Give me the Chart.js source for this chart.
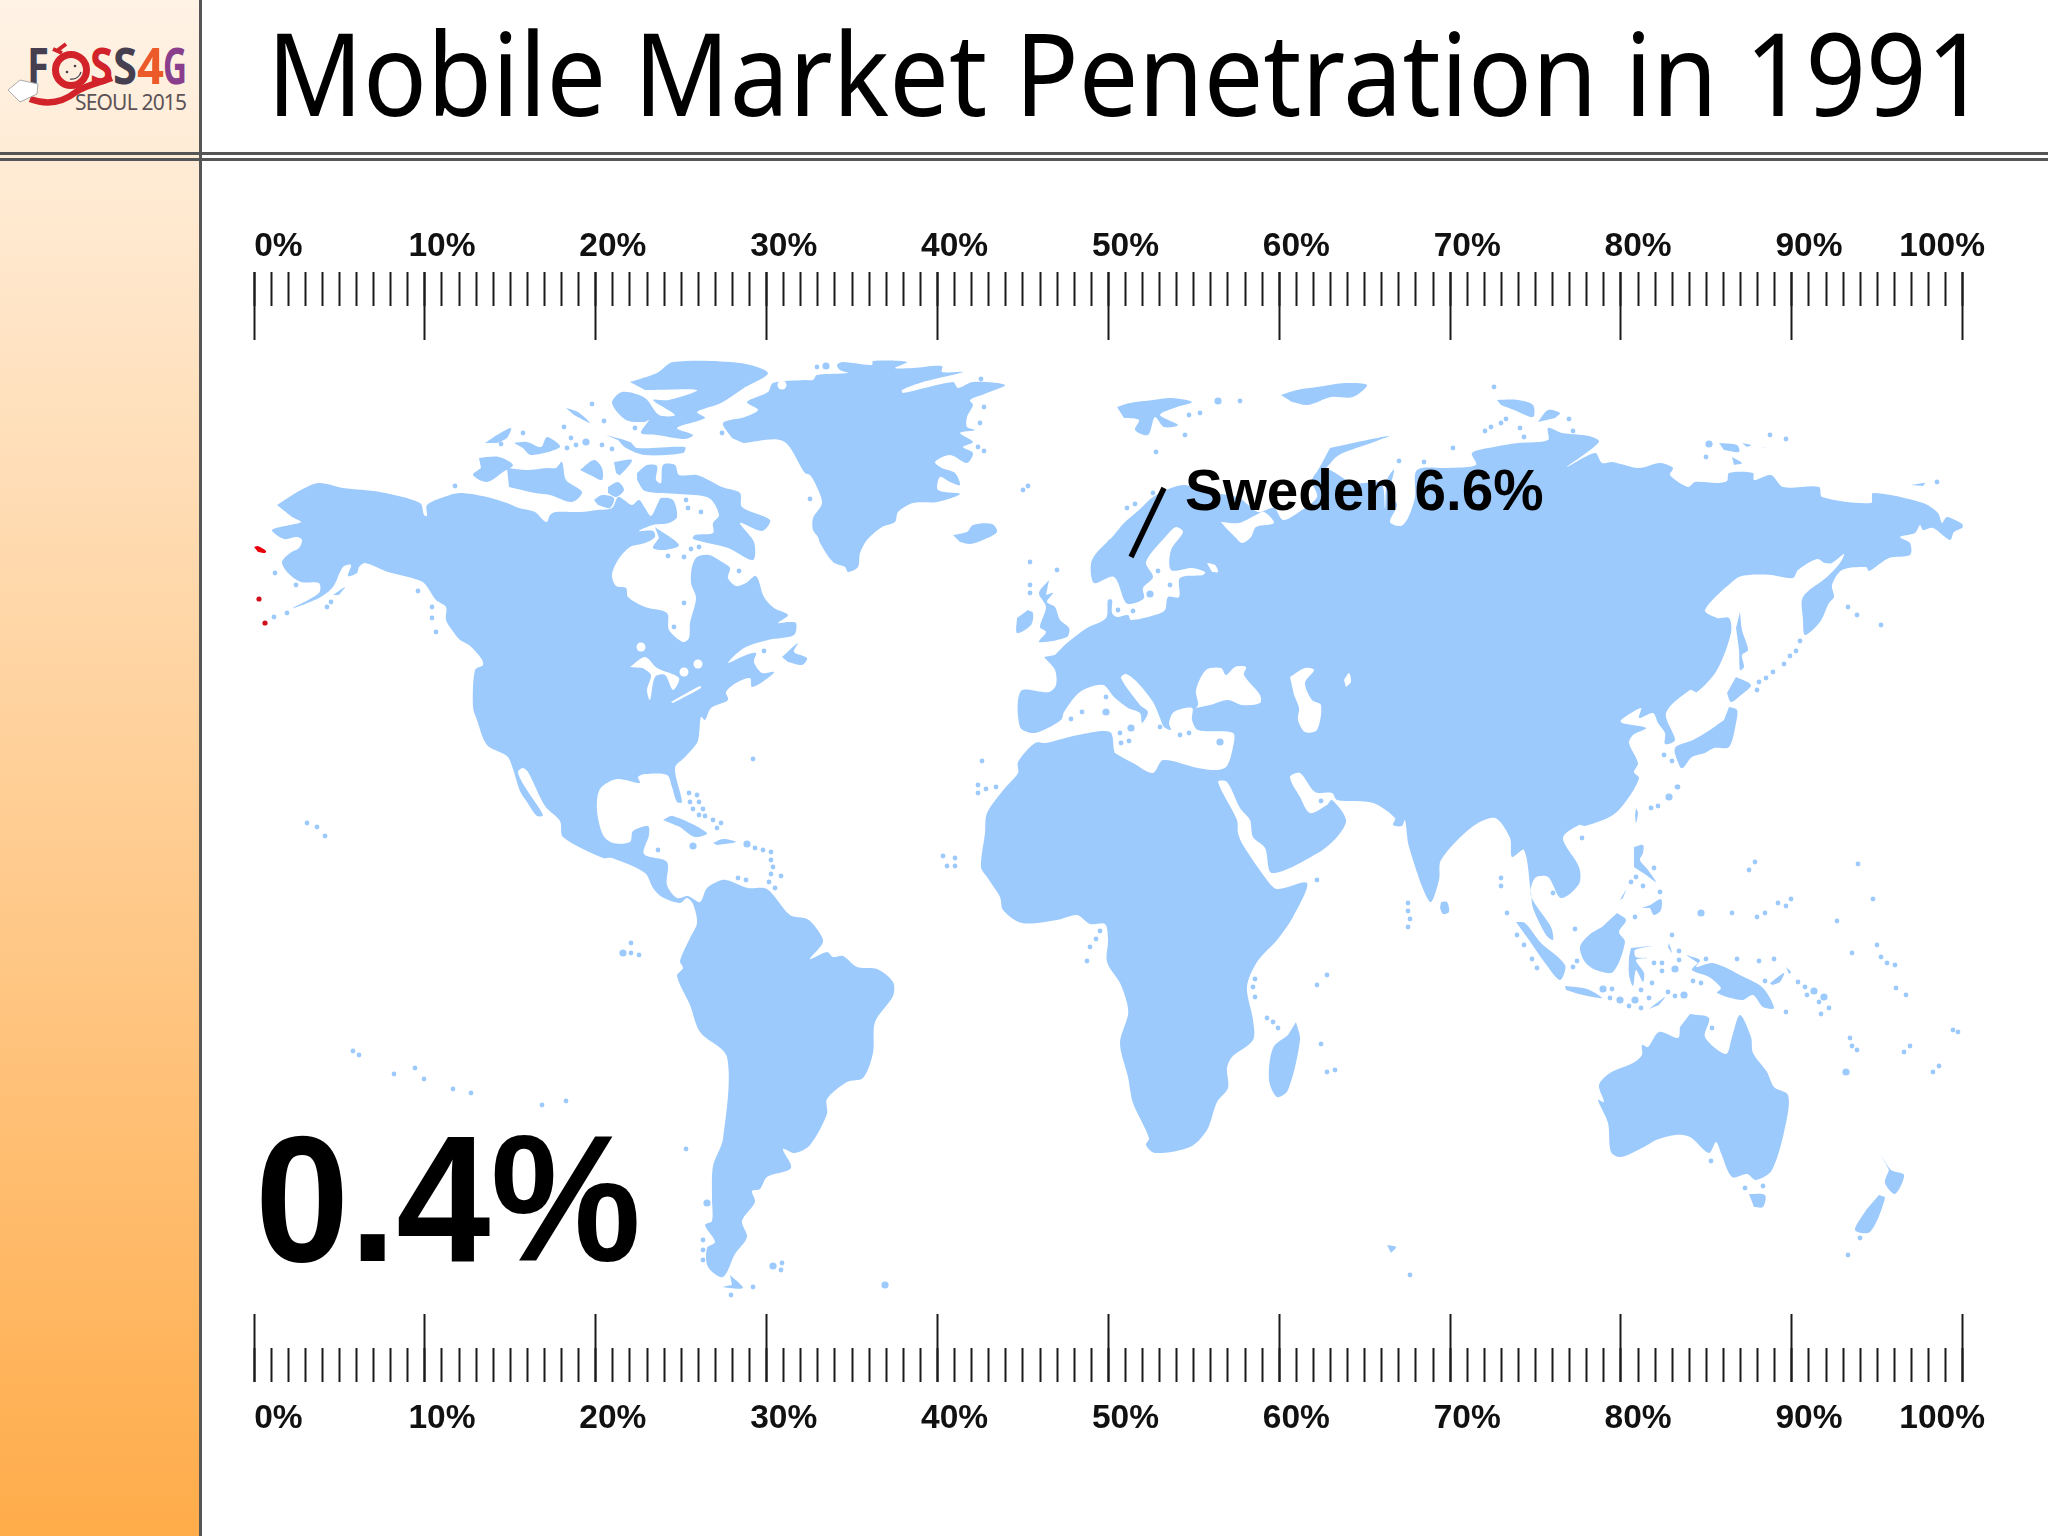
<!DOCTYPE html>
<html>
<head>
<meta charset="utf-8">
<title>Mobile Market Penetration in 1991</title>
<script src="https://cdn.jsdelivr.net/npm/chart.js@4"></script>
<style>
  html, body { margin: 0; padding: 0; background: #fff; }
  #slide { position: relative; width: 2048px; height: 1536px; overflow: hidden; background: #fff; }
  #side { position: absolute; left: 0; top: 0; width: 200px; height: 1536px; background: linear-gradient(#fff3e6, #ffac4a); }
  .rule { position: absolute; background: #555; }
  #heading { position: absolute; left: 267px; top: -8px; margin: 0; font: 400 116px "Noto Sans", sans-serif; color: #000; white-space: nowrap; transform: scaleX(0.912); transform-origin: left top; }
  #logo { position: absolute; left: 0; top: 0; }
  canvas { position: absolute; left: 0; top: 0; }
</style>
</head>
<body>
<div id="slide">
  <div id="side"></div>
  <h1 id="heading">Mobile Market Penetration in 1991</h1>
  <svg id="logo" width="200" height="150" font-family="Noto Sans" font-weight="700">
    <text x="27" y="84" font-size="50" fill="#453f50" textLength="22" lengthAdjust="spacingAndGlyphs">F</text>
    <text x="90" y="84" font-size="50" fill="#d2232a" textLength="23" lengthAdjust="spacingAndGlyphs">S</text>
    <text x="113" y="84" font-size="50" fill="#453f50" textLength="24" lengthAdjust="spacingAndGlyphs">S</text>
    <text x="137" y="84" font-size="50" fill="#ec5a29" textLength="27" lengthAdjust="spacingAndGlyphs">4</text>
    <text x="163" y="84" font-size="50" fill="#8a3f8c" textLength="24" lengthAdjust="spacingAndGlyphs">G</text>
    <circle cx="71" cy="70" r="15.5" fill="#fdeedd" stroke="#d2232a" stroke-width="7"/>
    <path d="M53 49 L62 53 M66 44 L58 50" stroke="#d2232a" stroke-width="4" fill="none"/>
    <circle cx="67" cy="72" r="1.3" fill="#453f50"/>
    <circle cx="75" cy="66" r="1.3" fill="#453f50"/>
    <path d="M70 79 C76 80 80 76 81 72" stroke="#453f50" stroke-width="1.2" fill="none"/>
    <path d="M112 78 C96 84 86 85 76 92 C62 103 46 105 30 99" fill="none" stroke="#d2232a" stroke-width="6.5"/>
    <path d="M8 90 L20 80 L38 84 L37 94 L20 102 Z" fill="#fff" stroke="#aaa"/>
    <text x="75" y="110" font-size="21" font-weight="400" fill="#5b5357" textLength="112">SEOUL 2015</text>
  </svg>
  <div class="rule" style="left:199px;top:0;width:3px;height:1536px"></div>
  <div class="rule" style="left:0;top:152px;width:2048px;height:3px"></div>
  <div class="rule" style="left:0;top:158px;width:2048px;height:2.5px"></div>
  <canvas id="myChart" width="2048" height="1536"></canvas>
</div>
<script>
// ruler values and labels
const tickValues = [0, 10, 20, 30, 40, 50, 60, 70, 80, 90, 100];
const tickLabels = ['0%', '10%', '20%', '30%', '40%', '50%', '60%', '70%', '80%', '90%', '100%'];

// callouts
const worldShare = '0.4%';
const swedenLabel = 'Sweden 6.6%';
const swedenLeader = [[1164,488],[1131,557]];

// land outlines
const northAmerica = [[277,505],[301,490],[319,483],[343,488],[380,492],[420,503],[424,515],[427,516],[427,505],[444,497],[460,493],[487,497],[507,503],[519,508],[535,512],[543,520],[547,522],[550,515],[556,512],[580,512],[598,510],[612,508],[618,497],[624,500],[632,505],[639,500],[645,508],[651,516],[658,503],[661,498],[673,500],[677,517],[669,523],[653,525],[639,531],[653,531],[655,537],[645,543],[630,547],[618,560],[612,575],[616,586],[626,588],[628,597],[645,607],[667,613],[669,630],[683,642],[689,638],[690,623],[696,598],[691,583],[692,567],[697,557],[709,555],[722,562],[730,568],[728,578],[736,586],[746,583],[756,576],[764,597],[774,608],[788,615],[778,623],[788,622],[796,623],[794,635],[768,640],[744,648],[728,663],[746,655],[756,653],[754,662],[762,673],[774,672],[768,678],[752,687],[750,678],[736,683],[726,692],[728,700],[711,708],[705,720],[701,717],[699,735],[697,743],[685,757],[675,768],[682,802],[677,802],[672,787],[667,775],[645,774],[638,777],[640,783],[617,779],[600,789],[597,810],[603,835],[613,843],[630,842],[633,831],[648,826],[649,835],[644,854],[667,862],[667,885],[677,898],[688,896],[700,902],[707,888],[722,880],[730,881],[748,888],[767,889],[790,915],[807,919],[817,929],[823,942],[810,959],[827,952],[833,957],[843,956],[857,967],[877,969],[893,982],[893,996],[875,1022],[873,1053],[863,1078],[847,1082],[827,1099],[827,1114],[810,1145],[795,1153],[783,1149],[791,1168],[767,1177],[760,1189],[752,1191],[755,1202],[742,1221],[747,1237],[735,1254],[723,1277],[708,1267],[707,1248],[715,1242],[705,1225],[712,1221],[712,1198],[713,1166],[723,1139],[727,1057],[700,1032],[690,1005],[677,976],[683,968],[680,961],[690,938],[697,923],[693,904],[687,898],[680,903],[662,897],[653,888],[645,873],[612,858],[603,858],[563,837],[560,821],[545,806],[528,772],[523,768],[518,772],[525,787],[543,815],[537,816],[527,802],[520,791],[512,766],[507,756],[487,745],[477,720],[473,707],[475,670],[483,665],[481,658],[469,645],[460,640],[452,630],[446,620],[446,607],[436,600],[424,583],[412,578],[388,572],[365,563],[359,567],[357,573],[348,576],[351,565],[343,567],[333,587],[319,598],[293,608],[319,593],[319,583],[301,582],[288,573],[282,562],[290,553],[299,548],[302,540],[297,537],[284,539],[272,530],[290,525],[301,522],[292,517]];
const ellesmere = [[630,382],[657,373],[673,362],[740,363],[768,373],[744,388],[721,403],[697,412],[705,418],[677,428],[693,435],[685,439],[657,435],[641,433],[649,420],[645,422],[626,420],[612,403],[622,392],[645,398],[659,415],[675,415],[653,400],[669,400],[697,390],[645,390]];
const baffin = [[637,473],[647,465],[657,466],[656,480],[661,483],[663,465],[675,465],[679,475],[697,475],[722,487],[740,493],[742,507],[770,520],[762,531],[740,523],[754,542],[753,560],[728,548],[693,539],[695,535],[713,533],[713,523],[719,515],[709,498],[679,494],[645,491],[637,480]];
const arcticIslandA = [[606,435],[630,442],[637,448],[685,447],[683,453],[645,455],[626,448],[618,440]];
const arcticIslandB = [[485,443],[497,435],[511,428],[507,438],[497,443]];
const arcticIslandC = [[514,443],[527,442],[541,447],[547,437],[560,447],[531,455],[523,448]];
const arcticIslandD = [[566,408],[578,412],[590,423],[574,415]];
const banks = [[479,458],[499,457],[513,465],[503,472],[487,482],[473,475],[481,468]];
const victoria = [[507,468],[527,470],[547,468],[556,468],[562,462],[566,480],[582,492],[572,502],[550,495],[535,493],[509,487]];
const arcticIslandE = [[580,470],[594,460],[602,468],[602,480],[590,475]];
const arcticIslandF = [[614,462],[632,460],[620,475],[616,473]];
const arcticIslandG = [[608,487],[618,482],[624,490],[616,497],[608,493]];
const arcticIslandH = [[594,500],[602,495],[614,498],[610,508],[598,505]];
const southampton = [[655,527],[679,545],[665,550],[653,548],[659,538]];
const newfoundland = [[782,657],[798,643],[794,652],[807,658],[802,665],[788,662]];
const kodiak = [[333,595],[345,587],[339,595]];
const greenland = [[732,438],[723,423],[745,417],[758,410],[747,402],[768,392],[773,383],[805,380],[813,380],[817,375],[848,373],[840,370],[837,365],[842,362],[853,363],[872,365],[873,361],[907,362],[895,368],[913,368],[942,366],[942,372],[963,372],[923,382],[902,390],[903,393],[953,382],[958,388],[973,382],[1005,385],[987,393],[970,400],[973,405],[967,417],[967,427],[975,430],[960,433],[973,442],[963,447],[973,453],[967,463],[950,455],[935,462],[942,468],[955,473],[960,485],[950,482],[940,477],[938,490],[960,494],[937,502],[913,503],[898,512],[895,522],[882,527],[867,540],[860,553],[858,567],[848,572],[845,567],[833,562],[820,543],[818,537],[813,530],[813,518],[822,503],[815,483],[810,475],[805,473],[783,441],[743,443]];
const iceland = [[953,535],[967,532],[973,525],[992,524],[997,532],[983,540],[970,544],[960,542]];
const eurasiaAfrica = [[1044,657],[1055,670],[1056,685],[1049,692],[1021,691],[1020,727],[1035,733],[1061,720],[1064,712],[1080,692],[1103,685],[1114,697],[1128,708],[1140,713],[1142,723],[1148,712],[1140,705],[1121,678],[1126,674],[1137,682],[1153,702],[1160,718],[1164,727],[1171,730],[1169,723],[1174,712],[1192,708],[1192,720],[1198,730],[1233,733],[1233,747],[1227,766],[1218,770],[1198,768],[1163,760],[1153,773],[1133,763],[1115,753],[1114,750],[1110,732],[1078,735],[1046,743],[1035,743],[1018,762],[1018,773],[1005,788],[987,813],[985,833],[981,867],[987,877],[1000,897],[1003,910],[1022,923],[1057,920],[1077,915],[1090,924],[1105,924],[1108,940],[1107,962],[1120,983],[1127,1003],[1128,1015],[1120,1043],[1128,1077],[1133,1103],[1149,1138],[1146,1145],[1155,1153],[1190,1147],[1207,1130],[1217,1102],[1228,1088],[1227,1068],[1232,1057],[1253,1040],[1253,1020],[1247,987],[1257,962],[1277,940],[1293,917],[1307,883],[1277,889],[1267,880],[1243,845],[1238,833],[1237,820],[1218,782],[1227,782],[1240,808],[1250,820],[1253,837],[1265,848],[1272,873],[1318,853],[1337,837],[1346,820],[1332,800],[1327,805],[1310,813],[1300,797],[1290,777],[1300,773],[1315,792],[1332,793],[1337,800],[1373,803],[1395,818],[1393,825],[1402,826],[1405,820],[1409,847],[1430,902],[1439,880],[1441,860],[1472,827],[1495,818],[1510,838],[1512,857],[1524,850],[1531,893],[1533,908],[1546,935],[1553,940],[1551,927],[1531,896],[1535,878],[1548,877],[1561,898],[1579,884],[1579,867],[1563,838],[1579,825],[1585,826],[1613,815],[1629,797],[1639,778],[1634,772],[1638,763],[1629,743],[1633,735],[1646,728],[1622,723],[1621,720],[1641,708],[1639,718],[1653,713],[1658,723],[1665,733],[1665,744],[1675,740],[1666,713],[1690,690],[1697,692],[1717,670],[1731,633],[1729,618],[1717,618],[1705,610],[1737,578],[1749,575],[1771,575],[1793,578],[1798,570],[1817,559],[1825,563],[1832,563],[1844,554],[1840,563],[1827,577],[1803,597],[1803,620],[1805,635],[1820,622],[1829,603],[1834,597],[1832,585],[1842,570],[1866,567],[1869,571],[1889,558],[1910,555],[1910,543],[1900,537],[1915,533],[1920,525],[1923,530],[1933,528],[1950,540],[1954,532],[1964,526],[1947,517],[1942,523],[1938,513],[1923,503],[1873,493],[1871,503],[1822,497],[1819,487],[1783,487],[1771,475],[1754,480],[1753,473],[1729,473],[1727,481],[1717,483],[1695,482],[1688,487],[1670,475],[1673,468],[1660,463],[1639,468],[1612,462],[1602,463],[1595,453],[1567,467],[1599,442],[1589,436],[1562,433],[1548,428],[1548,440],[1518,443],[1494,447],[1472,453],[1476,465],[1448,468],[1417,470],[1415,497],[1408,518],[1401,526],[1390,522],[1397,505],[1390,493],[1394,470],[1387,480],[1385,508],[1381,483],[1353,483],[1324,468],[1312,480],[1317,497],[1299,512],[1283,520],[1274,508],[1258,512],[1239,498],[1210,492],[1185,485],[1171,488],[1153,497],[1139,510],[1124,523],[1114,535],[1092,560],[1094,583],[1114,577],[1126,603],[1135,603],[1144,598],[1143,588],[1153,577],[1146,562],[1167,535],[1176,527],[1183,532],[1171,550],[1171,570],[1192,568],[1205,572],[1203,575],[1180,578],[1179,597],[1168,597],[1165,610],[1155,615],[1131,620],[1128,615],[1117,617],[1112,613],[1112,600],[1108,600],[1106,618],[1087,628],[1067,643],[1055,655]];
const britain = [[1049,580],[1039,593],[1046,607],[1040,627],[1046,632],[1039,642],[1067,637],[1069,628],[1060,620],[1055,607],[1047,602],[1053,593],[1046,595]];
const ireland = [[1028,610],[1033,613],[1031,625],[1017,633],[1017,618]];
const svalbard = [[1117,407],[1130,403],[1153,400],[1171,398],[1192,402],[1174,408],[1160,415],[1178,425],[1164,427],[1155,417],[1148,435],[1135,430],[1139,420],[1124,418]];
const franzJosef = [[1281,395],[1297,390],[1317,387],[1346,383],[1367,385],[1353,397],[1331,397],[1308,405],[1292,402]];
const novayaZemlya = [[1330,448],[1353,443],[1389,436],[1374,442],[1339,455],[1326,468],[1314,478],[1322,463]];
const severnayaA = [[1497,400],[1518,400],[1533,405],[1533,417],[1514,410],[1501,405]];
const severnayaB = [[1538,422],[1548,410],[1560,413],[1555,418]];
const siberianA = [[1719,443],[1737,445],[1739,452],[1724,450]];
const siberianB = [[1732,457],[1742,463],[1734,465]];
const siberianC = [[1742,443],[1751,445],[1747,447]];
const siberianD = [[1759,447],[1775,449],[1766,448]];
const wrangel = [[1911,485],[1925,483],[1923,486]];
const sakhalin = [[1740,612],[1742,630],[1748,650],[1742,655],[1744,667],[1740,670],[1739,650],[1736,628]];
const hokkaido = [[1736,677],[1751,685],[1741,695],[1731,702],[1727,693]];
const honshu = [[1729,707],[1737,710],[1736,723],[1729,747],[1714,748],[1705,753],[1692,757],[1683,768],[1680,767],[1675,748],[1693,740],[1710,730],[1717,725],[1724,720]];
const taiwan = [[1636,808],[1638,813],[1636,823],[1635,815]];
const luzon = [[1634,847],[1643,845],[1643,853],[1640,860],[1648,870],[1656,882],[1646,875],[1634,867]];
const mindanao = [[1642,908],[1650,905],[1661,899],[1661,910],[1654,915],[1650,908]];
const palawan = [[1620,900],[1626,890],[1623,898]];
const borneo = [[1617,913],[1626,920],[1619,932],[1625,942],[1613,972],[1596,970],[1585,962],[1580,947],[1589,935],[1602,927]];
const sumatra = [[1516,922],[1525,923],[1541,943],[1565,965],[1560,980],[1545,963],[1529,940]];
const java = [[1565,986],[1587,989],[1602,998],[1583,995],[1566,990]];
const sulawesi = [[1631,948],[1652,946],[1635,950],[1636,957],[1647,958],[1636,960],[1644,973],[1643,982],[1636,970],[1633,986],[1629,975],[1629,957]];
const newGuinea = [[1686,955],[1700,960],[1696,967],[1713,963],[1744,977],[1763,988],[1774,1008],[1763,1007],[1753,995],[1742,1000],[1717,993],[1721,988],[1709,977],[1692,970],[1698,963]];
const timor = [[1649,1009],[1665,997],[1659,1005]];
const halmahera = [[1669,943],[1672,953],[1668,947]];
const newBritain = [[1770,983],[1784,973],[1780,982],[1772,985]];
const newIreland = [[1786,967],[1791,972],[1789,974]];
const sriLanka = [[1441,902],[1447,902],[1449,912],[1443,914],[1440,908]];
const australia = [[1690,1014],[1709,1018],[1705,1037],[1726,1054],[1732,1037],[1740,1015],[1751,1037],[1753,1053],[1767,1072],[1774,1087],[1788,1095],[1786,1123],[1772,1170],[1756,1180],[1747,1174],[1732,1177],[1721,1153],[1716,1142],[1709,1153],[1690,1137],[1675,1135],[1656,1140],[1644,1147],[1621,1157],[1611,1152],[1608,1123],[1598,1100],[1604,1102],[1599,1085],[1610,1073],[1633,1063],[1642,1055],[1642,1045],[1648,1047],[1659,1032],[1678,1038],[1680,1027]];
const tasmania = [[1749,1194],[1765,1195],[1763,1207],[1754,1207]];
const newZealandNorth = [[1881,1155],[1891,1170],[1904,1175],[1895,1194],[1885,1183],[1889,1170]];
const newZealandSouth = [[1879,1195],[1885,1198],[1870,1232],[1855,1230],[1866,1210]];
const madagascar = [[1296,1022],[1300,1040],[1288,1090],[1277,1097],[1269,1080],[1273,1048],[1288,1035]];
const tierraDelFuego = [[730,1275],[743,1288],[723,1287],[732,1285]];
const cuba = [[663,820],[673,816],[707,833],[695,837],[680,827]];
const hispaniola = [[713,843],[723,839],[736,842],[717,845]];
const kerguelen = [[1387,1245],[1396,1247],[1391,1253]];

// inland water
const greatLakes = [[630,667],[645,657],[657,668],[679,678],[673,690],[665,675],[655,677],[650,700],[647,690],[651,675],[643,668]];
const lakeErie = [[671,702],[700,686],[701,688],[673,703]];
const blackSea = [[1192,711],[1198,705],[1196,690],[1206,670],[1221,668],[1226,675],[1235,667],[1246,667],[1244,675],[1260,695],[1260,703],[1242,705],[1228,700],[1210,705],[1196,708]];
const caspian = [[1290,677],[1305,668],[1314,670],[1305,683],[1312,700],[1321,705],[1317,730],[1305,732],[1298,720],[1299,708],[1294,695]];
const aral = [[1344,680],[1349,673],[1351,682],[1346,687]];
const whiteSea = [[1221,522],[1239,523],[1256,515],[1264,512],[1274,523],[1256,527],[1251,537],[1242,543],[1235,537],[1226,528]];
const ladoga = [[1207,563],[1215,565],[1218,572],[1212,572]];

// small islands
const islandDots = [[275,573],[296,585],[287,613],[274,617],[327,607],[331,602],[418,591],[432,607],[432,618],[436,632],[753,759],[592,404],[604,421],[564,427],[501,444],[523,433],[571,438],[576,445],[567,448],[602,445],[612,449],[455,486],[686,500],[688,508],[701,512],[668,556],[684,557],[691,549],[699,547],[635,428],[722,433],[684,603],[674,627],[739,571],[764,651],[817,367],[981,379],[984,407],[980,423],[978,447],[984,451],[935,481],[810,499],[1028,486],[1023,490],[689,793],[697,795],[690,802],[699,802],[693,809],[703,809],[699,815],[705,816],[713,820],[721,823],[717,828],[658,850],[755,848],[763,850],[771,852],[771,860],[773,867],[771,874],[781,876],[769,882],[775,888],[738,878],[746,880],[631,943],[631,953],[639,955],[453,1089],[471,1093],[542,1105],[566,1101],[686,1149],[703,1240],[703,1250],[703,1260],[782,1263],[781,1270],[753,1287],[731,1295],[307,823],[317,827],[325,836],[353,1051],[359,1055],[394,1074],[415,1068],[424,1079],[943,856],[955,858],[947,866],[955,866],[982,761],[978,785],[986,789],[996,787],[978,793],[1082,712],[1071,719],[1106,697],[1120,733],[1121,743],[1129,741],[1160,727],[1180,735],[1189,733],[1100,931],[1096,939],[1090,947],[1087,961],[1317,880],[1321,801],[1408,903],[1408,911],[1410,919],[1408,927],[1255,979],[1253,987],[1255,997],[1327,975],[1317,985],[1267,1018],[1273,1022],[1278,1028],[1321,1044],[1327,1072],[1335,1070],[1240,401],[1200,413],[1189,415],[1185,435],[1156,452],[1030,562],[1057,570],[1030,585],[1030,593],[1135,504],[1127,508],[1153,493],[1110,542],[1158,571],[1170,585],[1118,610],[1133,611],[1399,461],[1424,462],[1453,448],[1485,431],[1491,427],[1501,423],[1506,419],[1494,387],[1520,428],[1524,437],[1569,419],[1573,431],[1706,457],[1770,435],[1786,439],[1937,482],[1848,607],[1857,615],[1881,625],[1800,641],[1796,651],[1790,656],[1784,664],[1773,672],[1766,678],[1759,682],[1757,690],[1664,755],[1672,761],[1677,787],[1678,787],[1651,808],[1658,806],[1582,838],[1501,878],[1501,886],[1553,893],[1507,913],[1575,929],[1517,935],[1524,945],[1532,959],[1537,968],[1577,961],[1573,967],[1636,877],[1631,882],[1643,886],[1654,868],[1660,892],[1635,917],[1732,913],[1757,917],[1765,913],[1778,903],[1786,906],[1791,899],[1749,870],[1755,862],[1858,864],[1873,899],[1837,921],[1877,945],[1852,953],[1881,957],[1887,963],[1895,965],[1896,988],[1906,995],[1672,935],[1679,951],[1679,960],[1654,963],[1662,963],[1662,971],[1706,959],[1737,959],[1759,961],[1774,959],[1765,981],[1693,981],[1701,983],[1652,983],[1641,990],[1612,989],[1610,998],[1649,998],[1668,992],[1675,996],[1629,1006],[1641,1008],[1798,982],[1805,987],[1807,995],[1819,1002],[1829,1008],[1821,1014],[1786,1012],[1712,1028],[1850,1038],[1852,1046],[1857,1050],[1910,1046],[1904,1052],[1939,1066],[1933,1072],[1953,1030],[1958,1032],[1745,1188],[1763,1186],[1711,1161],[1860,1238],[1848,1255],[1410,1275]];
const largeIslandDots = [[826,366],[707,1203],[623,953],[693,846],[747,844],[773,1266],[885,1285],[1106,712],[1131,728],[1150,594],[1220,742],[1218,401],[1709,444],[1669,797],[1701,913],[1675,969],[1603,989],[1620,1000],[1635,1000],[1684,995],[1814,991],[1824,997],[1846,1072],[586,442]];
const lakeDots = [[641,647],[698,664],[684,672],[782,385]];
const firstMarketsLarge = [[254,547],[258,546],[266,551],[265,553],[258,552]];
const firstMarketsDots = [[259,599],[265,623]];

const landShapes = [northAmerica, ellesmere, baffin, arcticIslandA, arcticIslandB, arcticIslandC, arcticIslandD, banks, victoria, arcticIslandE, arcticIslandF, arcticIslandG, arcticIslandH, southampton, newfoundland, kodiak, greenland, iceland, eurasiaAfrica, britain, ireland, svalbard, franzJosef, novayaZemlya, severnayaA, severnayaB, siberianA, siberianB, siberianC, siberianD, wrangel, sakhalin, hokkaido, honshu, taiwan, luzon, mindanao, palawan, borneo, sumatra, java, sulawesi, newGuinea, timor, halmahera, newBritain, newIreland, sriLanka, australia, tasmania, newZealandNorth, newZealandSouth, madagascar, tierraDelFuego, cuba, hispaniola, kerguelen];
const waterShapes = [greatLakes, lakeErie, blackSea, caspian, aral, whiteSea, ladoga];

const landColor = '#9ccafd';
const toXY = pts => pts.map(p => ({ x: p[0], y: p[1] }));

// filled outline on the hidden map scales
function shape(pts, color, order) {
  return {
    data: toXY(pts), showLine: true, fill: 'shape', tension: 0.3, clip: false,
    backgroundColor: color, borderColor: 'transparent', borderWidth: 0, pointRadius: 0,
    xAxisID: 'mapX', yAxisID: 'mapY', order: order
  };
}

// dots on the hidden map scales
function dots(pts, color, radius, order) {
  return {
    data: toXY(pts), showLine: false, clip: false,
    pointBackgroundColor: color, pointBorderWidth: 0, pointRadius: radius,
    xAxisID: 'mapX', yAxisID: 'mapY', order: order
  };
}

const datasets = [
  ...landShapes.map(s => shape(s, landColor, 6)),
  ...waterShapes.map(s => shape(s, '#ffffff', 5)),
  dots(islandDots, landColor, 2.4, 4),
  dots(largeIslandDots, landColor, 3.6, 4),
  dots(lakeDots, '#ffffff', 4.5, 3),
  shape(firstMarketsLarge, '#e8000b', 2),
  dots(firstMarketsDots, '#d0101a', 2.6, 2),
  {
    data: toXY(swedenLeader), showLine: true, borderColor: '#000', borderWidth: 5.5,
    pointRadius: 0, clip: false, xAxisID: 'mapX', yAxisID: 'mapY', order: 1
  }
];

// the ruler ticks, hung from a y position on the map scale
function tickAxis(y, step, length) {
  return {
    axis: 'x', type: 'linear', min: 0, max: 100, position: { mapY: y },
    border: { display: false },
    grid: { drawOnChartArea: false, drawTicks: true, tickLength: length, tickWidth: 2, tickColor: '#1a1a1a' },
    ticks: { stepSize: step, display: false, autoSkip: false, maxRotation: 0 }
  };
}

// the percent labels sit right of their tick, the two end ones are pulled inside
function labelAxis(y) {
  return {
    axis: 'x', type: 'linear', min: 0, max: 100, position: { mapY: y },
    border: { display: false },
    grid: { display: false, drawTicks: false },
    afterBuildTicks: scale => {
      scale.ticks = tickValues.map(v => ({ value: v === 0 ? v + 1.43 : v === 100 ? v - 1.2 : v + 1 }));
    },
    ticks: {
      autoSkip: false, maxRotation: 0, minRotation: 0, padding: 0, color: '#111',
      font: { family: 'Liberation Sans', weight: 'bold', size: 33.5 },
      callback: (value, index) => tickLabels[index]
    }
  };
}

const calloutText = {
  id: 'calloutText',
  afterDatasetsDraw(chart) {
    const { mapX, mapY } = chart.scales;
    const ctx = chart.ctx;
    ctx.save();
    ctx.fillStyle = '#000';
    ctx.textBaseline = 'alphabetic';
    ctx.font = 'bold 56.6px "Liberation Sans"';
    ctx.fillText(swedenLabel, mapX.getPixelForValue(1185), mapY.getPixelForValue(510));
    ctx.font = 'bold 180px "Liberation Sans"';
    ctx.fillText(worldShare, mapX.getPixelForValue(255), mapY.getPixelForValue(1261), 386);
    ctx.restore();
  }
};

new Chart(document.getElementById('myChart'), {
  type: 'scatter',
  data: { datasets: datasets },
  plugins: [calloutText],
  options: {
    responsive: false,
    animation: false,
    layout: { padding: { left: 254, right: 85.3, top: 272, bottom: 154 } },
    plugins: { legend: { display: false }, tooltip: { enabled: false } },
    scales: {
      mapX: { axis: 'x', type: 'linear', display: false, min: 254, max: 1962.7 },
      mapY: { axis: 'y', type: 'linear', display: false, min: 272, max: 1382, reverse: true },
      xTopMajor: tickAxis(272, 10, 68),
      xTopMinor: tickAxis(272, 1, 34),
      xBottomMajor: tickAxis(1314, 10, 68),
      xBottomMinor: tickAxis(1348, 1, 34),
      xTopLabels: labelAxis(227),
      xBottomLabels: labelAxis(1399)
    }
  }
});
</script>
</body>
</html>
